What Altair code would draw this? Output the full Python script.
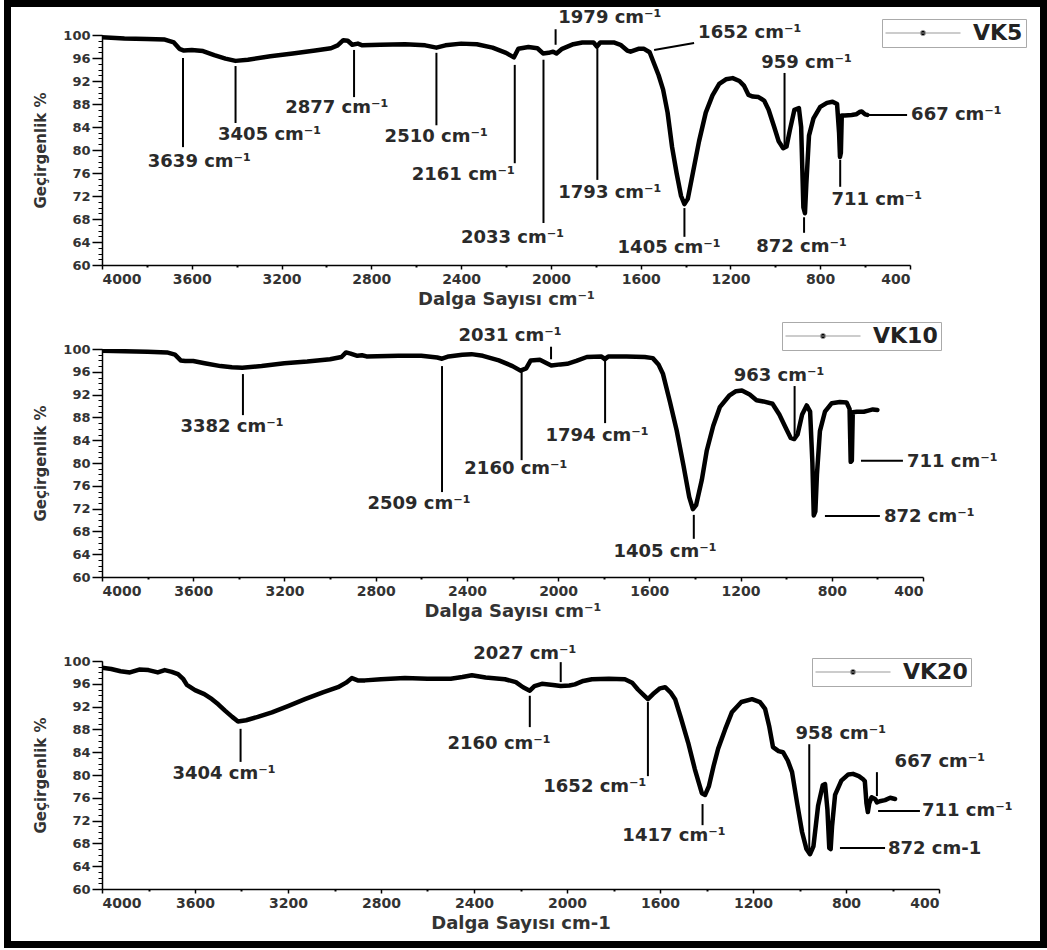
import altair as alt
import pandas as pd

FONT = "DejaVu Sans"

# ---------------- spectra (wavenumber cm-1, transmittance %) ----------------
VK5_WN = [4000, 3900, 3800, 3720, 3680, 3655, 3635, 3600, 3550, 3500, 3450, 3405, 3350, 3250,
          3150, 3050, 2980, 2950, 2925, 2905, 2885, 2860, 2840, 2760, 2650, 2560, 2510, 2470,
          2400, 2330, 2260, 2200, 2165, 2145, 2100, 2060, 2035, 2010, 1990, 1975, 1950, 1900,
          1860, 1810, 1795, 1780, 1720, 1690, 1660, 1645, 1610, 1585, 1560, 1540, 1520, 1500,
          1480, 1460, 1440, 1420, 1405, 1390, 1370, 1340, 1310, 1280, 1250, 1220, 1190, 1160,
          1140, 1120, 1100, 1075, 1050, 1030, 1005, 985, 965, 950, 935, 915, 895, 885, 875,
          868, 862, 850, 830, 800, 770, 745, 725, 716, 712, 708, 704, 690, 660, 640, 625, 615,
          600, 590]
VK5_T = [99.6, 99.4, 99.3, 99.2, 98.7, 97.6, 97.3, 97.4, 97.2, 96.5, 95.9, 95.5, 95.7, 96.3,
         96.8, 97.3, 97.7, 98.2, 99.1, 99.0, 98.3, 98.5, 98.2, 98.3, 98.4, 98.2, 97.8, 98.2,
         98.5, 98.4, 97.8, 96.9, 96.1, 97.6, 97.9, 97.7, 96.8, 96.9, 97.1, 96.8, 97.6, 98.4,
         98.7, 98.7, 98.0, 98.7, 98.7, 98.3, 97.3, 97.1, 97.6, 97.6, 97.0, 95.0, 93.0, 90.5,
         86.5, 80.5, 76.0, 72.0, 70.6, 71.5, 75.5, 81.5, 86.5, 89.5, 91.5, 92.3, 92.5, 92.0,
         91.2, 89.6, 89.3, 89.2, 88.6, 87.0, 84.0, 81.5, 80.3, 80.6, 83.5, 87.0, 87.3, 84.0,
         70.0, 69.0, 74.0, 82.5, 85.5, 87.5, 88.2, 88.4, 88.0, 83.0, 78.8, 79.5, 86.0, 86.0,
         86.1, 86.2, 86.6, 86.7, 86.2, 86.1]

VK10_WN = [4000, 3900, 3800, 3715, 3680, 3655, 3635, 3600, 3550, 3480, 3430, 3385, 3300, 3200,
           3100, 3000, 2950, 2930, 2910, 2880, 2860, 2840, 2700, 2600, 2530, 2509, 2480, 2420,
           2380, 2330, 2260, 2200, 2165, 2140, 2120, 2080, 2050, 2030, 1990, 1960, 1920, 1874,
           1810, 1795, 1780, 1700, 1620, 1585, 1560, 1540, 1510, 1480, 1450, 1425, 1409, 1395,
           1370, 1348, 1320, 1291, 1250, 1220, 1194, 1160, 1130, 1100, 1060, 1030, 1000, 980,
           965, 950, 930, 910, 895, 885, 879, 872, 865, 852, 830, 800, 765, 735, 722, 717, 712,
           708, 690, 660, 640, 620, 600]
VK10_T = [99.7, 99.6, 99.5, 99.4, 99.0, 98.0, 97.9, 97.9, 97.5, 97.0, 96.8, 96.7, 97.0, 97.5,
          97.8, 98.2, 98.6, 99.4, 99.2, 98.8, 98.9, 98.7, 98.8, 98.8, 98.5, 98.3, 98.7, 99.0,
          99.1, 98.8, 98.0, 97.0, 96.2, 96.6, 98.0, 98.1, 97.5, 97.1, 97.3, 97.4, 97.9, 98.6,
          98.7, 98.2, 98.7, 98.7, 98.6, 98.4, 97.3, 95.6, 90.8, 85.7, 79.5, 74.0, 71.9, 72.6,
          77.0, 82.2, 86.5, 89.8, 91.8, 92.6, 92.7, 92.0, 91.0, 90.8, 90.4, 88.5, 86.0, 84.4,
          84.2, 85.0, 88.5, 90.1, 89.0, 80.0, 70.8, 71.5, 78.0, 85.6, 89.0, 90.5, 90.7, 90.6,
          89.5, 80.2, 80.4, 88.9, 89.0, 89.0, 89.2, 89.4, 89.3]

VK20_WN = [4000, 3960, 3920, 3880, 3840, 3800, 3760, 3730, 3700, 3673, 3650, 3635, 3600, 3560,
           3527, 3500, 3471, 3440, 3415, 3380, 3330, 3269, 3200, 3127, 3050, 2985, 2950, 2925,
           2900, 2869, 2800, 2697, 2600, 2500, 2450, 2409, 2350, 2267, 2220, 2189, 2160, 2140,
           2108, 2060, 2027, 1990, 1966, 1930, 1893, 1820, 1751, 1720, 1695, 1670, 1652, 1630,
           1600, 1578, 1555, 1535, 1510, 1479, 1450, 1420, 1406, 1390, 1370, 1350, 1320, 1291,
           1250, 1204, 1170, 1148, 1130, 1114, 1090, 1071, 1050, 1032, 1010, 989, 970, 955, 940,
           920, 900, 890, 880, 872, 866, 860, 847, 820, 790, 770, 745, 725, 719, 712, 706, 700,
           690, 675, 667, 655, 632, 610, 589]
VK20_T = [98.8, 98.6, 98.2, 98.0, 98.5, 98.4, 98.0, 98.4, 98.1, 97.7, 96.8, 95.8, 94.9, 94.2,
          93.3, 92.4, 91.3, 90.2, 89.4, 89.6, 90.2, 91.0, 92.1, 93.3, 94.5, 95.4, 96.2, 97.0,
          96.6, 96.6, 96.8, 97.0, 96.9, 96.9, 97.2, 97.5, 97.1, 96.8, 96.3, 95.4, 94.8, 95.6,
          96.0, 95.8, 95.6, 95.7, 95.9, 96.5, 96.8, 96.9, 96.8, 96.2, 95.0, 94.0, 93.3, 94.2,
          95.2, 95.4, 94.5, 93.3, 90.0, 85.7, 81.0, 76.8, 76.5, 78.0, 81.5, 84.6, 88.0, 91.0,
          92.8, 93.3, 92.8, 91.6, 88.5, 84.9, 84.2, 84.0, 82.5, 80.5, 75.0, 70.0, 67.0, 66.1,
          67.5, 74.6, 78.2, 78.4, 74.0, 67.2, 67.0, 71.0, 76.5, 79.0, 80.1, 80.2, 79.8, 79.2,
          78.9, 75.0, 73.5, 75.0, 76.1, 75.8, 75.2, 75.4, 75.6, 76.0, 75.8]

# ---------------- peak annotations ----------------
SUP = " cm\u207b\u00b9"
P1_LABELS = [s + SUP for s in ["3639", "3405", "2877", "2510", "2161", "2033", "1979", "1793",
                               "1652", "1405", "872", "959", "711", "667"]]
P1_X1 = [3639, 3405, 2877, 2510, 2161, 2033, 1979, 1793, 1540, 1405, 872, 959, 711, 592]
P1_X2 = [3639, 3405, 2877, 2510, 2161, 2033, 1979, 1793, 1362, 1405, 872, 959, 711, 413]
P1_Y1 = [96.0, 94.6, 97.4, 96.9, 94.8, 95.7, 98.3, 97.7, 97.4, 69.9, 68.3, 80.3, 78.3, 86.1]
P1_Y2 = [80.5, 84.7, 89.2, 84.3, 77.7, 67.3, 101.0, 74.8, 98.6, 64.9, 65.6, 93.4, 73.6, 86.1]
P1_TX = [3566, 3253, 2954, 2511, 2390, 2171, 1737, 1737, 1353, 1473, 883, 861, 548, 404]
P1_TY = [77.9, 82.6, 87.3, 82.3, 75.7, 64.7, 103.0, 72.5, 100.3, 63.0, 63.1, 95.1, 71.3, 86.1]
P1_ALIGN = ["center"] * 8 + ["left"] + ["center"] * 4 + ["left"]

P2_LABELS = [s + SUP for s in ["3382", "2509", "2160", "2031", "1794", "1405", "963", "711", "872"]]
P2_X1 = [3382, 2509, 2160, 2031, 1794, 1405, 963, 672, 830]
P2_X2 = [3382, 2509, 2160, 2031, 1794, 1405, 963, 488, 589]
P2_Y1 = [95.6, 97.0, 96.1, 100.4, 98.8, 70.9, 93.5, 80.4, 70.7]
P2_Y2 = [88.4, 74.9, 80.5, 98.2, 87.0, 66.7, 84.7, 80.4, 70.7]
P2_TX = [3430, 2610, 2185, 2211, 1829, 1531, 1031, 479, 580]
P2_TY = [86.3, 72.8, 78.9, 102.3, 84.7, 64.4, 95.3, 80.2, 70.5]
P2_ALIGN = ["center"] * 7 + ["left", "left"]

P3_LABELS = [s + SUP for s in ["3404", "2160", "2027", "1652", "1417", "958", "667", "711"]] + ["872 cm-1"]
P3_X1 = [3404, 2160, 2027, 1652, 1417, 958, 667, 662, 826]
P3_X2 = [3404, 2160, 2027, 1652, 1417, 958, 667, 482, 632]
P3_Y1 = [88.1, 93.9, 99.8, 92.8, 74.9, 85.4, 80.5, 73.7, 67.2]
P3_Y2 = [82.3, 88.4, 96.3, 79.8, 71.2, 66.5, 76.3, 73.7, 67.2]
P3_TX = [3475, 2292, 2181, 1880, 1540, 822, 396, 482, 628]
P3_TY = [80.2, 85.4, 101.2, 77.9, 69.3, 87.2, 82.3, 73.6, 67.1]
P3_ALIGN = ["center"] * 7 + ["left", "left"]

X_MAJOR = [4000, 3600, 3200, 2800, 2400, 2000, 1600, 1200, 800, 400]
X_MINOR = [3800, 3400, 3000, 2600, 2200, 1800, 1400, 1000, 600]
Y_MAJOR = [60, 64, 68, 72, 76, 80, 84, 88, 92, 96, 100]
Y_MINOR = list(range(60, 101))

LEG_SYMBOL = ("M-1,0L1,0M-0.07,0A0.07,0.07,0,1,1,0.07,0A0.07,0.07,0,1,1,-0.07,0Z")


def panel(wn, tr, name, labels, x1, x2, y1, y2, tx, ty, align, w, h, lx, ly, xtitle, frame=False):
    xs = alt.Scale(domain=[4000, 400], nice=False, zero=False)
    ys = alt.Scale(domain=[60, 100], nice=False, zero=False)

    x_main = alt.Axis(values=X_MAJOR, format="d", orient="bottom", tickSize=4, tickWidth=1.5,
                      tickColor="black", domainColor="black", domainWidth=1.5, grid=False,
                      labelPadding=3, labelFont=FONT, labelFontSize=14, labelFontWeight="bold",
                      labelColor="#333", title=xtitle, titleFont=FONT, titleFontSize=18,
                      titleFontWeight="bold", titleColor="#333", titlePadding=4)
    y_main = alt.Axis(values=Y_MAJOR, format="d", orient="left", tickSize=10, tickWidth=1.5,
                      tickColor="black", domainColor="black", domainWidth=1.5, grid=False,
                      labelPadding=2, labelFont=FONT, labelFontSize=13, labelFontWeight="bold",
                      labelColor="#333", title="Geçirgenlik %", titleFont=FONT,
                      titleFontSize=15, titleFontWeight="bold", titleColor="#333",
                      titlePadding=14)
    x_minor = alt.Axis(values=X_MINOR, orient="bottom", tickSize=2, tickWidth=2,
                       tickColor="black", labels=False, domain=False, grid=False, title=None)
    y_minor = alt.Axis(values=Y_MINOR, orient="left", tickSize=4, tickWidth=1,
                       tickColor="black", labels=False, domain=False, grid=False, title=None)

    spec = pd.DataFrame({"w": wn, "t": tr})
    ann = pd.DataFrame({"label": labels, "x1": x1, "x2": x2, "y1": y1, "y2": y2,
                        "tx": tx, "ty": ty, "align": align})

    line = alt.Chart(spec).mark_line(color="black", strokeWidth=4.5, strokeJoin="round",
                                     strokeCap="round", clip=True).encode(
        x=alt.X("w:Q", scale=xs, axis=x_main),
        y=alt.Y("t:Q", scale=ys, axis=y_main),
    )
    rules = alt.Chart(ann).mark_rule(color="black", strokeWidth=2).encode(
        x=alt.X("x1:Q", scale=xs, axis=x_minor), x2="x2:Q",
        y=alt.Y("y1:Q", scale=ys, axis=y_minor), y2="y2:Q",
    )
    txt_c = alt.Chart(ann).transform_filter(alt.datum.align == "center").mark_text(
        font=FONT, fontSize=18, fontWeight="bold", color="#2a2a2a", align="center",
        baseline="middle").encode(
        x=alt.X("tx:Q", scale=xs, axis=None), y=alt.Y("ty:Q", scale=ys, axis=None),
        text="label:N")
    txt_l = alt.Chart(ann).transform_filter(alt.datum.align == "left").mark_text(
        font=FONT, fontSize=18, fontWeight="bold", color="#2a2a2a", align="left",
        baseline="middle", dx=2).encode(
        x=alt.X("tx:Q", scale=xs, axis=None), y=alt.Y("ty:Q", scale=ys, axis=None),
        text="label:N")
    leg = alt.Chart(pd.DataFrame({"w": [300], "t": [100], "name": [name]})).mark_point(
        filled=True, clip=True, stroke="#999", strokeWidth=1, opacity=1).encode(
        x=alt.X("w:Q", scale=xs, axis=None), y=alt.Y("t:Q", scale=ys, axis=None),
        fill=alt.Fill("name:N", scale=alt.Scale(range=["black"]),
                      legend=alt.Legend(title=None, orient="none", legendX=lx, legendY=ly,
                                        symbolType=LEG_SYMBOL, symbolSize=5625,
                                        symbolStrokeWidth=1, symbolStrokeColor="#999",
                                        clipHeight=22, labelFont=FONT, labelFontSize=22,
                                        labelFontWeight="bold", labelColor="#222",
                                        labelOffset=12, strokeColor="#aaa", padding=3,
                                        fillColor="white")))
    layers = [line, rules, txt_c, txt_l, leg]
    if frame:
        box = alt.Chart(pd.DataFrame({"a": [0]})).mark_rect(
            fill="transparent", stroke="black", strokeWidth=7, clip=False).encode(
            x=alt.value(-94.5), x2=alt.value(941.5), y=alt.value(-31.5), y2=alt.value(909.5))
        layers.append(box)
    return alt.layer(*layers).resolve_axis(x="independent", y="independent").properties(
        width=w, height=h)


p1 = panel(VK5_WN, VK5_T, "VK5", P1_LABELS, P1_X1, P1_X2, P1_Y1, P1_Y2, P1_TX, P1_TY,
           P1_ALIGN, 808, 230, 780, -16, "Dalga Sayısı cm\u207b\u00b9", frame=True)
p2 = panel(VK10_WN, VK10_T, "VK10", P2_LABELS, P2_X1, P2_X2, P2_Y1, P2_Y2, P2_TX, P2_TY,
           P2_ALIGN, 821, 228, 680, -27, "Dalga Sayısı cm\u207b\u00b9")
p3 = panel(VK20_WN, VK20_T, "VK20", P3_LABELS, P3_X1, P3_X2, P3_Y1, P3_Y2, P3_TX, P3_TY,
           P3_ALIGN, 837, 228, 710, -3, "Dalga Sayısı cm-1")

chart = alt.vconcat(p1, p2, p3, spacing=84, bounds="flush").resolve_scale(
    fill="independent").properties(
    padding={"left": 4, "top": 0, "right": 0, "bottom": 0}, background="white"
).configure(font=FONT).configure_view(strokeWidth=0)

chart.save("out.html", embed_options={"renderer": "svg", "actions": False})
